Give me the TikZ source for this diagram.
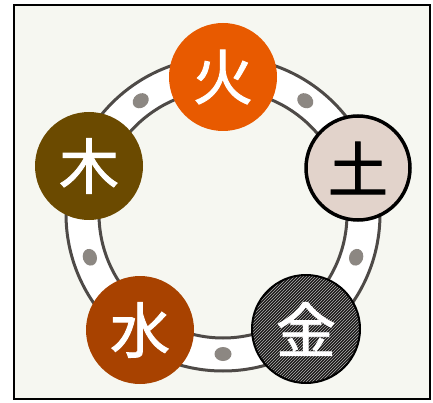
\documentclass[tikz,border=0pt]{standalone}
\usepackage{fontspec}
\newfontfamily\cjk{Noto Sans CJK JP}[FakeBold=1.5]
\usetikzlibrary{shapes.geometric,patterns}
\definecolor{bgcol}{HTML}{F6F7F1}
\definecolor{firecol}{HTML}{E85A00}
\definecolor{earthcol}{HTML}{E2D3CB}
\definecolor{metalcol}{HTML}{1A1817}
\definecolor{watercol}{HTML}{A84200}
\definecolor{woodcol}{HTML}{6B4A00}
\definecolor{ringcol}{HTML}{4E4A47}
\definecolor{dotcol}{HTML}{8C8782}
\tikzset{
  elem/.style={circle, minimum size=108pt, inner sep=0pt, text=white,
    font=\cjk\fontsize{60}{60}\selectfont},
  ringline/.style={draw=ringcol, line width=3pt},
  beaddot/.style={ellipse, fill=dotcol, minimum width=17pt, minimum height=14pt, inner sep=0pt},
}
\begin{document}
\begin{tikzpicture}[x=1pt,y=-1pt]
\useasboundingbox (0,0) rectangle (433,403);
\fill[white] (0,0) rectangle (433,403);
\draw[line width=1.2pt, fill=bgcol] (14,5) rectangle (430,399);
\coordinate (c) at (223,214);
% ring band
\fill[white, even odd rule] (c) circle (157pt) (c) circle (124pt);
\draw[ringline] (c) circle (157pt);
\draw[ringline] (c) circle (124pt);
% beads
\foreach \a/\n in {54/d1, -18/d2, -90/d3, -162/d4, 126/d5}{
  \node[beaddot, rotate=\a+90] (\n) at ([shift={(\a:140pt)}]c) {};
}
% elements
\node[elem, fill=firecol] (huo) at (223,77) {火};
\node[elem, fill=earthcol, draw=black, line width=3.5pt, text=black, minimum size=104pt] (tu) at (358,168) {土};
\node[elem, fill=metalcol, draw=black, line width=2pt,
  path picture={\fill[pattern=north east lines, pattern color=gray!60]
    (path picture bounding box.south west) rectangle (path picture bounding box.north east);}] (jin) at (306,329) {};
\node[text=white, font=\cjk\fontsize{60}{60}\selectfont] (jinch) at (jin) {金};
\node[elem, fill=watercol] (shui) at (140,330) {水};
\node[elem, fill=woodcol] (mu) at (89,166) {木};
\end{tikzpicture}
\end{document}
